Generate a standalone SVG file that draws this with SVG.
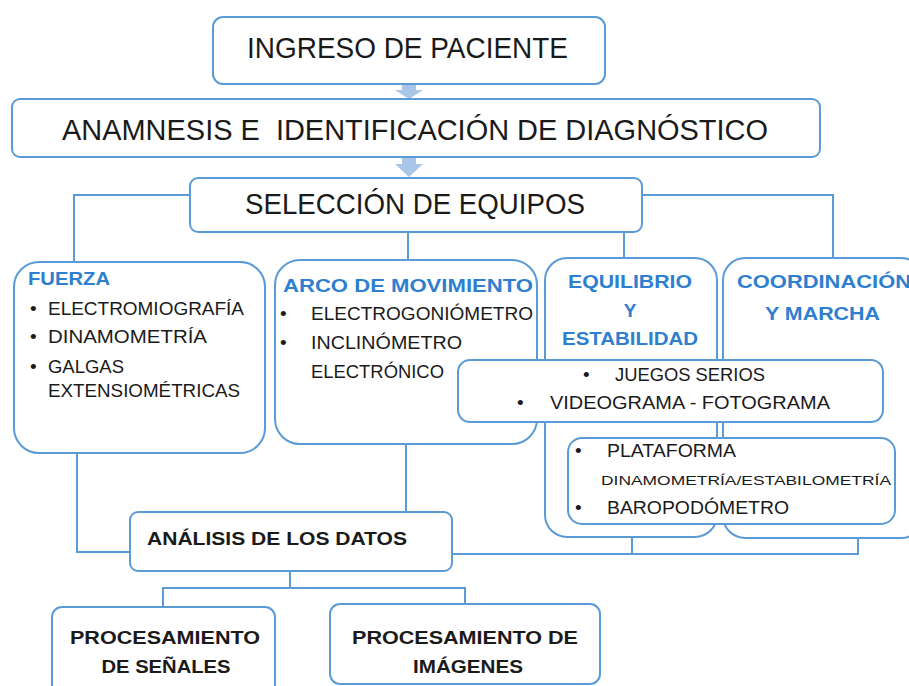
<svg xmlns="http://www.w3.org/2000/svg" width="909" height="686" viewBox="0 0 909 686">
<style>
.box{fill:#fff;stroke:#5b9bd5;stroke-width:2}
.con{fill:none;stroke:#5b9bd5;stroke-width:2}
.arr{fill:#a9c6e8;stroke:none}
text{font-family:"Liberation Sans","Open Sans",sans-serif;fill:#1a1a1a;white-space:pre}
.big{font-size:29px}
.t{font-size:19px}
.h{font-size:19px;font-weight:bold;fill:#2e7fd0}
.b{font-size:19px;font-weight:bold}
.s{font-size:13px}
.c{text-anchor:middle}
</style>
<rect width="909" height="686" fill="#fff"/>
<g id="connectors">
<path class="con" d="M190 195 H74 V262"/>
<path class="con" d="M642 195 H833 V258"/>
<path class="con" d="M408 232 V260"/>
<path class="con" d="M624 232 V258"/>
<path class="con" d="M77 453 V552 H130"/>
<path class="con" d="M406 444 V512"/>
<path class="con" d="M452 554 H858 V538"/>
<path class="con" d="M632 537 V554"/>
<path class="con" d="M290 571 V588"/>
<path class="con" d="M163 607 V588 H465 V604"/>
<path class="arr" d="M402 84 H416 V90 H423 L409 99 L395 90 H402 Z"/>
<path class="arr" d="M402 157 H416 V164 H423 L409 177 L395 164 H402 Z"/>
</g>
<g id="ingreso">
<rect class="box" x="213" y="17" width="392" height="67" rx="10"/>
<text class="big" x="247" y="58" textLength="321" lengthAdjust="spacingAndGlyphs">INGRESO DE PACIENTE</text>
</g>
<g id="anamnesis">
<rect class="box" x="12" y="99" width="808" height="58" rx="8"/>
<text class="big" x="62" y="140" textLength="706" lengthAdjust="spacingAndGlyphs">ANAMNESIS E  IDENTIFICACIÓN DE DIAGNÓSTICO</text>
</g>
<g id="seleccion">
<rect class="box" x="190" y="178" width="452" height="54" rx="8"/>
<text class="big" x="245" y="214" textLength="340" lengthAdjust="spacingAndGlyphs">SELECCIÓN DE EQUIPOS</text>
</g>
<g id="fuerza">
<rect class="box" x="14" y="262" width="251" height="191" rx="25"/>
<text class="h" x="28" y="285" textLength="82" lengthAdjust="spacingAndGlyphs">FUERZA</text>
<text class="t" x="30" y="315">•</text>
<text class="t" x="48" y="315" textLength="196" lengthAdjust="spacingAndGlyphs">ELECTROMIOGRAFÍA</text>
<text class="t" x="30" y="343">•</text>
<text class="t" x="48" y="343" textLength="159" lengthAdjust="spacingAndGlyphs">DINAMOMETRÍA</text>
<text class="t" x="30" y="373">•</text>
<text class="t" x="48" y="373" textLength="76" lengthAdjust="spacingAndGlyphs">GALGAS</text>
<text class="t" x="48" y="397" textLength="192" lengthAdjust="spacingAndGlyphs">EXTENSIOMÉTRICAS</text>
</g>
<g id="arco">
<rect class="box" x="275" y="260" width="262" height="184" rx="25"/>
<text class="h" x="283" y="292" textLength="250" lengthAdjust="spacingAndGlyphs">ARCO DE MOVIMIENTO</text>
<text class="t" x="280" y="320">•</text>
<text class="t" x="311" y="320" textLength="222" lengthAdjust="spacingAndGlyphs">ELECTROGONIÓMETRO</text>
<text class="t" x="280" y="349">•</text>
<text class="t" x="311" y="349" textLength="151" lengthAdjust="spacingAndGlyphs">INCLINÓMETRO</text>
<text class="t" x="311" y="378" textLength="133" lengthAdjust="spacingAndGlyphs">ELECTRÓNICO</text>
</g>
<g id="equilibrio">
<rect class="box" x="545" y="258" width="172" height="279" rx="22"/>
<text class="h" x="568" y="288" textLength="124" lengthAdjust="spacingAndGlyphs">EQUILIBRIO</text>
<text class="h c" x="630" y="317">Y</text>
<text class="h" x="562" y="345" textLength="136" lengthAdjust="spacingAndGlyphs">ESTABILIDAD</text>
</g>
<g id="coordinacion">
<rect class="box" x="723" y="258" width="200" height="280" rx="22"/>
<text class="h" x="737" y="288" textLength="174" lengthAdjust="spacingAndGlyphs">COORDINACIÓN</text>
<text class="h" x="765" y="320" textLength="115" lengthAdjust="spacingAndGlyphs">Y MARCHA</text>
</g>
<g id="juegos">
<rect class="box" x="458" y="360" width="425" height="62" rx="12"/>
<text class="t" x="583" y="381">•</text>
<text class="t" x="615" y="381" textLength="150" lengthAdjust="spacingAndGlyphs">JUEGOS SERIOS</text>
<text class="t" x="517" y="409">•</text>
<text class="t" x="550" y="409" textLength="280" lengthAdjust="spacingAndGlyphs">VIDEOGRAMA - FOTOGRAMA</text>
</g>
<g id="plataforma">
<rect class="box" x="568" y="438" width="327" height="86" rx="14"/>
<text class="t" x="575" y="457">•</text>
<text class="t" x="607" y="457" textLength="129" lengthAdjust="spacingAndGlyphs">PLATAFORMA</text>
<text class="s" x="601" y="485" textLength="290" lengthAdjust="spacingAndGlyphs">DINAMOMETRÍA/ESTABILOMETRÍA</text>
<text class="t" x="575" y="514">•</text>
<text class="t" x="607" y="514" textLength="182" lengthAdjust="spacingAndGlyphs">BAROPODÓMETRO</text>
</g>
<g id="analisis">
<rect class="box" x="130" y="512" width="322" height="59" rx="8"/>
<text class="b" x="147" y="545" textLength="260" lengthAdjust="spacingAndGlyphs">ANÁLISIS DE LOS DATOS</text>
</g>
<g id="senales">
<rect class="box" x="52" y="607" width="223" height="90" rx="10"/>
<text class="b c" x="165" y="644" textLength="190" lengthAdjust="spacingAndGlyphs">PROCESAMIENTO</text>
<text class="b c" x="166" y="673" textLength="129" lengthAdjust="spacingAndGlyphs">DE SEÑALES</text>
</g>
<g id="imagenes">
<rect class="box" x="330" y="604" width="270" height="80" rx="10"/>
<text class="b c" x="465" y="644" textLength="226" lengthAdjust="spacingAndGlyphs">PROCESAMIENTO DE</text>
<text class="b c" x="468" y="673" textLength="110" lengthAdjust="spacingAndGlyphs">IMÁGENES</text>
</g>
</svg>
